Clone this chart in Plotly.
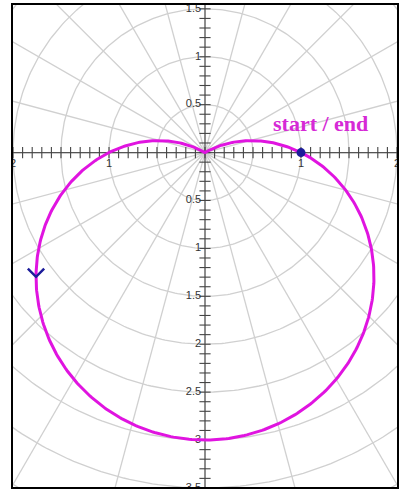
import numpy as np
import plotly.graph_objects as go

# Limacon r = A - B*sin(theta), outer loop only (r >= 0)
A = 1.0
B = 2.0

# polar graph-paper grid
grid_radii = [0.5, 1.0, 1.5, 2.0, 2.5, 3.0, 3.5, 4.0, 4.5]
grid_angles_deg = list(range(0, 360, 15))

# axis tick labels (absolute values, as on polar graph paper)
x_label_pos = [-2, -1, 1, 2]
x_label_txt = ["2", "1", "1", "2"]
y_label_pos = [1.5, 1.0, 0.5, -0.5, -1.0, -1.5, -2.0, -2.5, -3.0, -3.5]
y_label_txt = ["1.5", "1", "0.5", "0.5", "1", "1.5", "2", "2.5", "3", "3.5"]

start_point = (1.0, 0.0)
arrow_theta = np.pi + np.arcsin((-1 + np.sqrt(33)) / 8)  # leftmost point of the loop

XR = [-2.0, 2.0]
YR = [-3.49, 1.54]

fig = go.Figure()

# grid circles
t = np.linspace(0, 2 * np.pi, 361)
for rr in grid_radii:
    fig.add_trace(go.Scatter(x=rr * np.cos(t), y=rr * np.sin(t), mode="lines",
                             line=dict(color="#d0d0d0", width=1.3),
                             hoverinfo="skip", showlegend=False))
# radial lines
for a in grid_angles_deg:
    th = np.deg2rad(a)
    fig.add_trace(go.Scatter(x=[0, 5 * np.cos(th)], y=[0, 5 * np.sin(th)], mode="lines",
                             line=dict(color="#d0d0d0", width=1.3),
                             hoverinfo="skip", showlegend=False))

# axes through the origin
fig.add_trace(go.Scatter(x=XR, y=[0, 0], mode="lines", line=dict(color="#555", width=1.2),
                         hoverinfo="skip", showlegend=False))
fig.add_trace(go.Scatter(x=[0, 0], y=YR, mode="lines", line=dict(color="#555", width=1.2),
                         hoverinfo="skip", showlegend=False))

# minor ticks every 0.1
xt = np.round(np.arange(-2.0, 2.01, 0.1), 2)
yt = np.round(np.arange(-3.5, 1.61, 0.1), 2)
fig.add_trace(go.Scatter(x=xt, y=np.zeros_like(xt), mode="markers",
                         marker=dict(symbol="line-ns", size=8, line=dict(color="#444", width=1.1)),
                         hoverinfo="skip", showlegend=False))
fig.add_trace(go.Scatter(x=np.zeros_like(yt), y=yt, mode="markers",
                         marker=dict(symbol="line-ew", size=8, line=dict(color="#444", width=1.1)),
                         hoverinfo="skip", showlegend=False))

# tick labels
fig.add_trace(go.Scatter(x=x_label_pos, y=[-0.12] * len(x_label_pos), mode="text",
                         text=x_label_txt, textposition="middle center",
                         textfont=dict(family="Liberation Sans, Arial", size=11, color="#333"),
                         hoverinfo="skip", showlegend=False))
fig.add_trace(go.Scatter(x=[-0.04] * len(y_label_pos), y=y_label_pos, mode="text",
                         text=y_label_txt, textposition="middle left",
                         textfont=dict(family="Liberation Sans, Arial", size=11, color="#333"),
                         hoverinfo="skip", showlegend=False))

# the curve: theta in [0, pi/6] then [5pi/6, 2pi]
th1 = np.linspace(0, np.pi / 6, 60)
th2 = np.linspace(5 * np.pi / 6, 2 * np.pi, 400)
th = np.concatenate([th1, th2])
r = A - B * np.sin(th)
fig.add_trace(go.Scatter(x=r * np.cos(th), y=r * np.sin(th), mode="lines",
                         line=dict(color="#e014e0", width=3),
                         hoverinfo="skip", showlegend=False))

# direction arrow (chevron) at the leftmost point
ra = A - B * np.sin(arrow_theta)
ax_, ay_ = ra * np.cos(arrow_theta), ra * np.sin(arrow_theta)
fig.add_trace(go.Scatter(x=[ax_ - 0.085, ax_, ax_ + 0.085], y=[ay_ + 0.085, ay_, ay_ + 0.085],
                         mode="lines", line=dict(color="#1c1c9a", width=2.5),
                         hoverinfo="skip", showlegend=False))

# start / end marker
fig.add_trace(go.Scatter(x=[start_point[0]], y=[start_point[1]], mode="markers",
                         marker=dict(color="#1c1c9a", size=9),
                         hoverinfo="skip", showlegend=False))
fig.add_annotation(x=1.2, y=0.3, text="<b>start / end</b>", showarrow=False,
                   font=dict(family="Liberation Serif, DejaVu Serif", size=22, color="#d62ad6"))

fig.update_xaxes(range=XR, showgrid=False, zeroline=False, showticklabels=False,
                 showline=True, mirror=True, linecolor="black", linewidth=2)
fig.update_yaxes(range=YR, showgrid=False, zeroline=False, showticklabels=False,
                 showline=True, mirror=True, linecolor="black", linewidth=2)
fig.update_layout(width=400, height=489, margin=dict(l=13, r=3, t=5, b=2),
                  plot_bgcolor="white", paper_bgcolor="white")

fig.write_html("out.html")
